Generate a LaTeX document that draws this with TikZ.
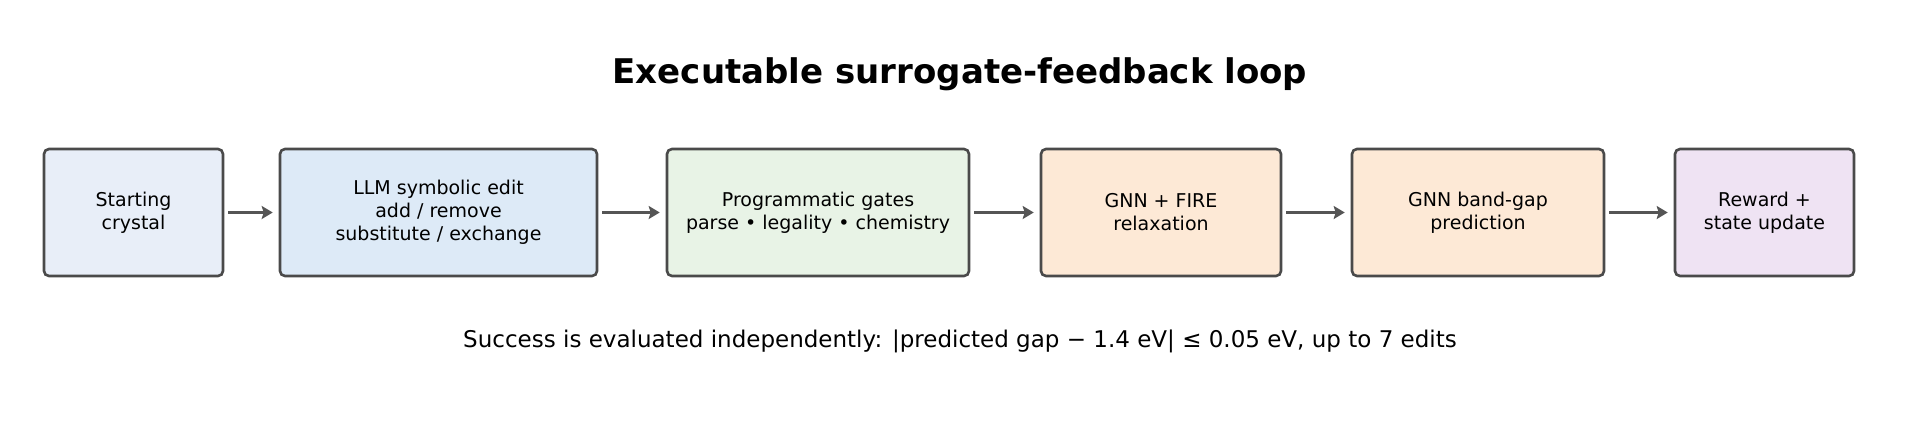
\documentclass[tikz,border=0pt]{standalone}
\usepackage{fontspec}
\setmainfont{DejaVu Sans}
\usetikzlibrary{arrows.meta}
\definecolor{c1}{HTML}{E8EEF8}
\definecolor{c2}{HTML}{DDEAF7}
\definecolor{c3}{HTML}{E8F3E6}
\definecolor{c4}{HTML}{FDE9D6}
\definecolor{c6}{HTML}{EFE3F3}
\definecolor{bd}{HTML}{4A4A4A}
\definecolor{ar}{HTML}{555555}
\begin{document}
\begin{tikzpicture}[x=1pt,y=-1pt,
 box/.style={draw=bd,line width=2.6pt,rounded corners=5pt,align=center,font=\fontsize{19}{23}\selectfont,inner sep=0pt},
 arr/.style={draw=ar,line width=3.5pt,-{Stealth[length=11pt,width=13pt,inset=2pt]}}]
\useasboundingbox (0,0) rectangle (1919,424);
\newcommand\bx[6]{\node[box,fill=#6,minimum width=#3-#2,minimum height=127] (#1) at ({(#2+#3)/2},212.5) {#4};}
\bx{a}{44}{223}{Starting\\crystal}{}{c1}
\bx{b}{280}{597}{LLM symbolic edit\\add / remove\\substitute / exchange}{}{c2}
\bx{c}{667}{969}{Programmatic gates\\parse • legality • chemistry}{}{c3}
\bx{d}{1041}{1281}{GNN + FIRE\\relaxation}{}{c4}
\bx{e}{1352}{1604}{GNN band-gap\\prediction}{}{c4}
\bx{f}{1675}{1854}{Reward +\\state update}{}{c6}
\foreach \p/\q in {a/b,b/c,c/d,d/e,e/f}{\draw[arr] ([xshift=4pt]\p.east) -- ([xshift=-6pt]\q.west);}
\node[font=\bfseries\fontsize{34}{40}\selectfont] (t) at (960,74) {Executable surrogate-feedback loop};
\node[font=\fontsize{23}{28}\selectfont] (s) at (960,341) {Success is evaluated independently: |predicted gap − 1.4 eV| ≤ 0.05 eV, up to 7 edits};
\end{tikzpicture}
\end{document}
